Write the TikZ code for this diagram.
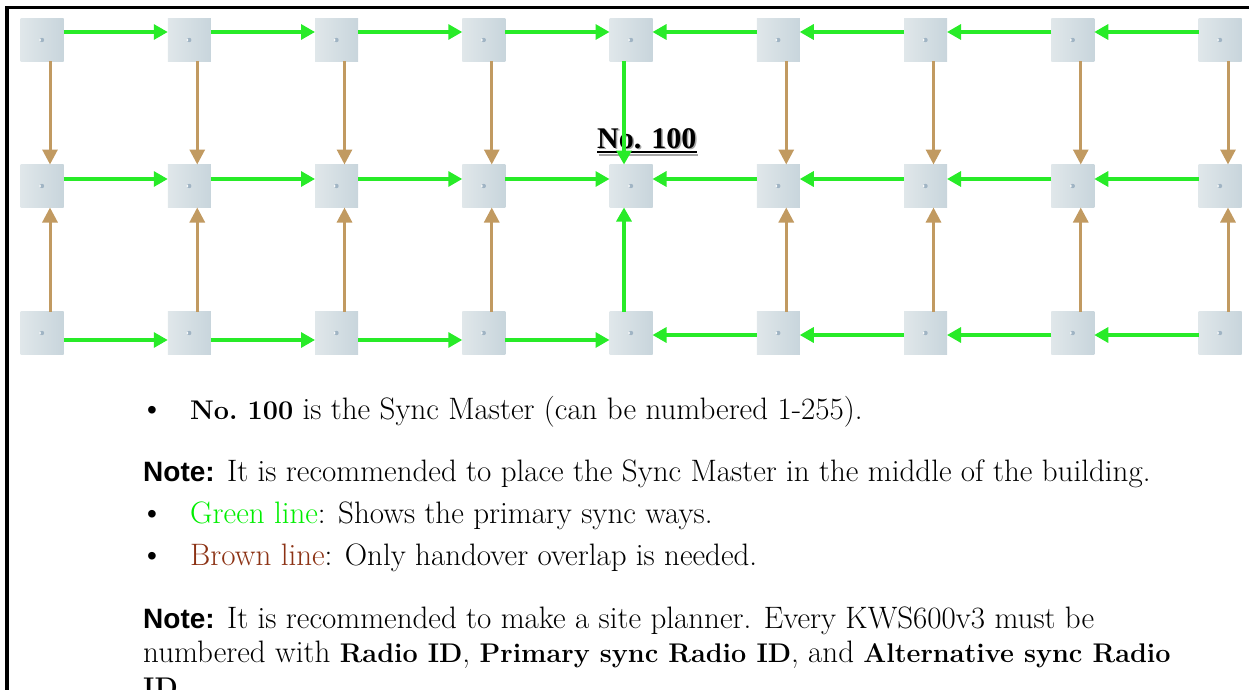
\documentclass[tikz,border=0pt]{standalone}
\usepackage{fontspec}
\newfontfamily\notefont{Liberation Sans}
\newfontfamily\labelfont{Liberation Serif}
\usetikzlibrary{arrows.meta}
\definecolor{syncgreen}{RGB}{40,235,40}
\definecolor{hobrown}{RGB}{193,154,97}
\definecolor{txtgreen}{RGB}{0,238,0}
\definecolor{txtbrown}{RGB}{140,50,20}
\definecolor{nodeA}{RGB}{224,231,234}
\definecolor{nodeB}{RGB}{200,213,220}
\definecolor{dotc}{RGB}{160,180,196}
\newcommand{\bt}[1]{{\fontsize{27}{34}\selectfont\bfseries #1}}
\newcommand{\nt}{{\notefont\bfseries\fontsize{28}{34}\selectfont Note:}}
\begin{document}
\begin{tikzpicture}[x=1pt,y=-1pt,
  unit/.style={minimum width=43pt,minimum height=43pt,inner sep=0pt,outer sep=0pt,
    left color=nodeA,right color=nodeB},
  garrow/.style={draw=syncgreen,line width=3.2pt,-{Triangle[length=14pt,width=15pt]}},
  barrow/.style={draw=hobrown,line width=3pt,-{Triangle[length=15pt,width=15pt]}},
  body/.style={anchor=base west,inner sep=0pt,font=\fontsize{31}{36}\selectfont},
  bul/.style={anchor=base,inner sep=0pt,font=\notefont\fontsize{28}{34}\selectfont},
  frame/.style={line width=3.4pt}]
\useasboundingbox (0,0) rectangle (1249,690);
\clip (0,0) rectangle (1249,690);
% frame
\draw[frame] (6.8,692) -- (6.8,7.3) -- (1251,7.3);
% units
\foreach \c in {0,...,8}{
  \foreach \r/\yy in {1/40,2/186,3/333}{
    \node[unit] (n\r\c) at ({42+147.25*\c},\yy) {};
    \fill[dotc] (n\r\c.center) circle (2.2pt);
    \fill[white] ([xshift=-1.8pt]n\r\c.center) circle (1pt);
  }
}
% master label
\node[anchor=base west,inner sep=0pt,text=gray!70,font=\labelfont\bfseries\fontsize{30}{30}\selectfont]
  (lblshadow) at (598.5,149.5) {No. 100};
\node[anchor=base west,inner sep=0pt,font=\labelfont\bfseries\fontsize{30}{30}\selectfont]
  (lbl) at (597,148) {No. 100};
\draw[gray!70,line width=2.5pt] ([yshift=-5.5pt]lblshadow.base west) -- ([yshift=-5.5pt]lblshadow.base east);
\draw[line width=2.5pt] ([yshift=-4pt]lbl.base west) -- ([yshift=-4pt]lbl.base east);
% green horizontal arrows
\foreach \c [evaluate=\c as \d using int(\c+1)] in {0,...,3}{
  \draw[garrow] ([yshift=8pt]n1\c.east) -- ([yshift=8pt]n1\d.west);
  \draw[garrow] ([yshift=7pt]n2\c.east) -- ([yshift=7pt]n2\d.west);
  \draw[garrow] ([yshift=-7pt]n3\c.east) -- ([yshift=-7pt]n3\d.west);
}
\foreach \c [evaluate=\c as \d using int(\c-1)] in {5,...,8}{
  \draw[garrow] ([yshift=8pt]n1\c.west) -- ([yshift=8pt]n1\d.east);
  \draw[garrow] ([yshift=7pt]n2\c.west) -- ([yshift=7pt]n2\d.east);
  \draw[garrow] ([yshift=-2pt]n3\c.west) -- ([yshift=-2pt]n3\d.east);
}
% vertical arrows
\foreach \c in {0,1,2,3,5,6,7,8}{
  \draw[barrow] ([xshift=8pt]n1\c.south) -- ([xshift=8pt]n2\c.north);
  \draw[barrow] ([xshift=8pt]n3\c.north) -- ([xshift=8pt]n2\c.south);
}
\draw[garrow] ([xshift=-7pt]n14.south) -- ([xshift=-7pt]n24.north);
\draw[garrow] ([xshift=-7pt]n34.north) -- ([xshift=-7pt]n24.south);
% text
\node[bul] (b1) at (152,419) {•};
\node[body] (t1) at (190,419) {\bt{No.\ 100} is the Sync Master (can be numbered 1-255).};
\node[body] (t2) at (143,481) {\nt{} It is recommended to place the Sync Master in the middle of the building.};
\node[bul] (b2) at (152,523) {•};
\node[body] (t3) at (190,523) {\textcolor{txtgreen}{Green line}: Shows the primary sync ways.};
\node[bul] (b3) at (152,565) {•};
\node[body] (t4) at (190,565) {\textcolor{txtbrown}{Brown line}: Only handover overlap is needed.};
\node[body] (t5) at (143,628) {\nt{} It is recommended to make a site planner. Every KWS600v3 must be};
\node[body] (t6) at (143,662) {numbered with \bt{Radio ID}, \bt{Primary sync Radio ID}, and \bt{Alternative sync Radio}};
\node[body] (t7) at (143,696) {\bt{ID}};
\end{tikzpicture}
\end{document}
